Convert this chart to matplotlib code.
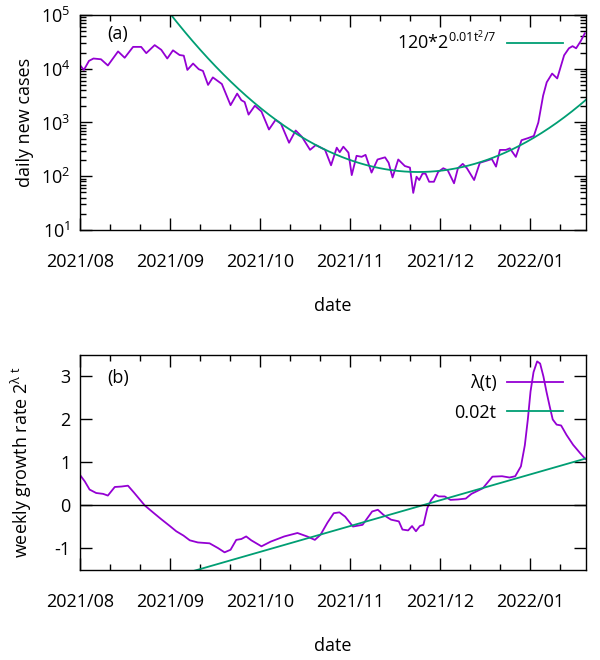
import numpy as np
import matplotlib
matplotlib.use("Agg")
import matplotlib.pyplot as plt
from matplotlib.ticker import MultipleLocator, LogLocator, NullFormatter

# fonts - gnuplot-ish sans look
plt.rcParams['font.family'] = ['Open Sans', 'DejaVu Sans']
plt.rcParams['mathtext.fontset'] = 'custom'
plt.rcParams['mathtext.rm'] = 'Open Sans'
plt.rcParams['mathtext.it'] = 'Open Sans'
plt.rcParams['axes.unicode_minus'] = False
plt.rcParams['font.size'] = 13

# x axis: days since start of the plotted range
tick_days = [0, 30, 60, 90, 120, 150]
tick_labels = ['2021/08', '2021/09', '2021/10', '2021/11', '2021/12', '2022/01']
x_max = 168.7

# (a) daily new cases
days_a = [0, 1.3, 3, 4.5, 7, 9.3, 12.7, 14.9, 17.7, 20.4,
          22.1, 24.9, 27.1, 29.1, 31, 33.2, 34.6, 35.8, 37.7, 39.6,
          41, 42.7, 44.3, 47.3, 50.2, 52.4, 53.8, 54.9, 56.2, 58.3, 60.5,
          63, 65.2, 67, 69.7, 71.9, 74, 76.7, 78.6, 81.7, 83.7,
          85.6, 86.6, 87.8, 89.5, 90.6, 92.2, 93.9, 95.2, 97.2, 99.2,
          101.7, 102.9, 104.2, 106.1, 108.3, 110, 111.1, 112.2, 113.1, 114.2,
          115.2, 116.4, 118, 119.4, 121.1, 122.6, 124.7, 126, 127.6, 129,
          131.4, 133.3, 135.6, 137.3, 138.7, 140, 142, 143.3, 145.3, 147.2,
          149.4, 151.3, 152.8, 154.4, 155.6, 157.4, 159.1, 161.4, 163, 164.2,
          165.4, 166.9, 168.3]
cases_a = [11700, 9500, 14000, 15500, 15000, 11500, 21000, 16000, 25500, 25500,
           19500, 27500, 22500, 15500, 22000, 18000, 17500, 9500, 12500, 9800,
           9100, 5000, 6900, 5200, 2100, 3450, 2600, 2400, 1400, 2050, 1600,
           740, 1120, 950, 420, 710, 540, 310, 380, 310, 160,
           340, 280, 355, 275, 105, 240, 230, 250, 117, 205,
           225, 178, 95, 205, 155, 145, 49, 98, 85, 112,
           112, 79, 79, 120, 141, 129, 74, 141, 170, 141,
           85, 178, 195, 209, 151, 309, 309, 331, 229, 468,
           513, 562, 1000, 3160, 5600, 8130, 6600, 17800, 24000, 26300,
           24000, 32400, 45700]

# (b) weekly growth exponent lambda(t)
days_b = [0, 1.6, 3.2, 5.4, 7.7, 9.3, 11.6, 13.8, 16, 18,
          21.6, 24.5, 27.1, 30, 32.1, 34.5, 36.6, 39.3, 43.2, 46,
          48.2, 50.2, 52.1, 53.8, 55.4, 57.1, 60.5, 63.6, 68.1, 72.5,
          75.7, 78.3, 80.2, 82.5, 84.6, 86.5, 88.4, 91, 94.2, 97.4,
          99.3, 101.2, 103.7, 106.3, 107.5, 109.4, 110.7, 112, 113.3, 114.5,
          115.8, 117, 118.4, 119.6, 121.6, 123.5, 126, 128.6, 130.5, 134.3,
          137.5, 140.7, 143.2, 145.1, 147, 148.3, 149.3, 150.2, 151.2, 152.4,
          153.4, 154.5, 155.5, 156.6, 157.6, 158.9, 160.4, 162.2, 164.4, 166.7,
          168.5]
lam_b = [0.71, 0.56, 0.37, 0.29, 0.27, 0.23, 0.43, 0.44, 0.46, 0.30,
         0.0, -0.17, -0.32, -0.48, -0.60, -0.70, -0.81, -0.86, -0.88, -0.99,
         -1.09, -1.03, -0.80, -0.78, -0.72, -0.81, -0.95, -0.84, -0.72, -0.64,
         -0.72, -0.80, -0.68, -0.40, -0.18, -0.16, -0.26, -0.49, -0.45, -0.14,
         -0.10, -0.22, -0.33, -0.37, -0.56, -0.58, -0.48, -0.60, -0.48, -0.45,
         -0.06, 0.12, 0.25, 0.21, 0.21, 0.13, 0.14, 0.16, 0.27, 0.40,
         0.67, 0.68, 0.65, 0.68, 0.91, 1.4, 2.0, 2.65, 3.1, 3.35,
         3.3, 3.0, 2.65, 2.3, 2.0, 1.88, 1.86, 1.64, 1.41, 1.22,
         1.08]

# fit parameters (from the legends), t measured from day t0
fit_amp = 120
fit_coef = 0.01
fit_slope = 0.02
t0_a = 112.8
t0_b = 114

purple = '#9400d3'
green = '#009e73'

fig = plt.figure(figsize=(6, 6.6), dpi=100)
ax1 = fig.add_axes([0.1333, 0.6515, 0.8434, 0.3258])
ax2 = fig.add_axes([0.1333, 0.1364, 0.8434, 0.3258])

tt = np.linspace(0, x_max, 400)

# panel (a)
ax1.plot(days_a, cases_a, color=purple, lw=1.3)
ax1.plot(tt, fit_amp * 2 ** (fit_coef * (tt - t0_a) ** 2 / 7), color=green, lw=1.3,
         label=r'120*2$^{\mathrm{0.01t^2/7}}$')
ax1.set_yscale('log')
ax1.set_ylim(10, 1e5)
ax1.yaxis.set_major_locator(LogLocator(base=10, numticks=10))
ax1.yaxis.set_minor_locator(LogLocator(base=10, subs=np.arange(2, 10), numticks=10))
ax1.yaxis.set_minor_formatter(NullFormatter())
ax1.set_ylabel('daily new cases')
ax1.text(0.075, 0.912, '(a)', transform=ax1.transAxes, ha='center', va='center')
ax1.legend(loc='center right', bbox_to_anchor=(0.955, 0.876), frameon=False,
           markerfirst=False, handlelength=3.1, handletextpad=0.6,
           borderpad=0, borderaxespad=0)

# panel (b)
ax2.plot(days_b, lam_b, color=purple, lw=1.3, label='λ(t)')
ax2.plot(tt, fit_slope * (tt - t0_b), color=green, lw=1.3, label='0.02t')
ax2.axhline(0, color='black', lw=1)
ax2.set_ylim(-1.5, 3.5)
ax2.yaxis.set_major_locator(MultipleLocator(1))
ax2.set_ylabel(r'weekly growth rate 2$^{λ\ t}$')
ax2.text(0.075, 0.893, '(b)', transform=ax2.transAxes, ha='center', va='center')
ax2.legend(loc='center right', bbox_to_anchor=(0.955, 0.801), frameon=False,
           markerfirst=False, handlelength=3.1, handletextpad=0.6,
           borderpad=0, borderaxespad=0, labelspacing=0.65)

for ax in (ax1, ax2):
    ax.set_xlim(0, x_max)
    ax.set_xticks(tick_days)
    ax.set_xticklabels(tick_labels)
    ax.xaxis.set_minor_locator(MultipleLocator(10))
    ax.set_xlabel('date')
    ax.xaxis.set_label_coords(0.5, -0.31)
    ax.yaxis.set_label_coords(-0.091, 0.5)
    ax.tick_params(which='both', direction='in', top=True, right=True, width=1)
    ax.tick_params(which='major', length=8.5)
    ax.tick_params(which='minor', length=4.3)
    ax.tick_params(axis='x', which='both', pad=16.5)
    ax.tick_params(axis='y', which='both', pad=7)
    for s in ax.spines.values():
        s.set_linewidth(1)

fig.savefig('out.png', dpi=100)
